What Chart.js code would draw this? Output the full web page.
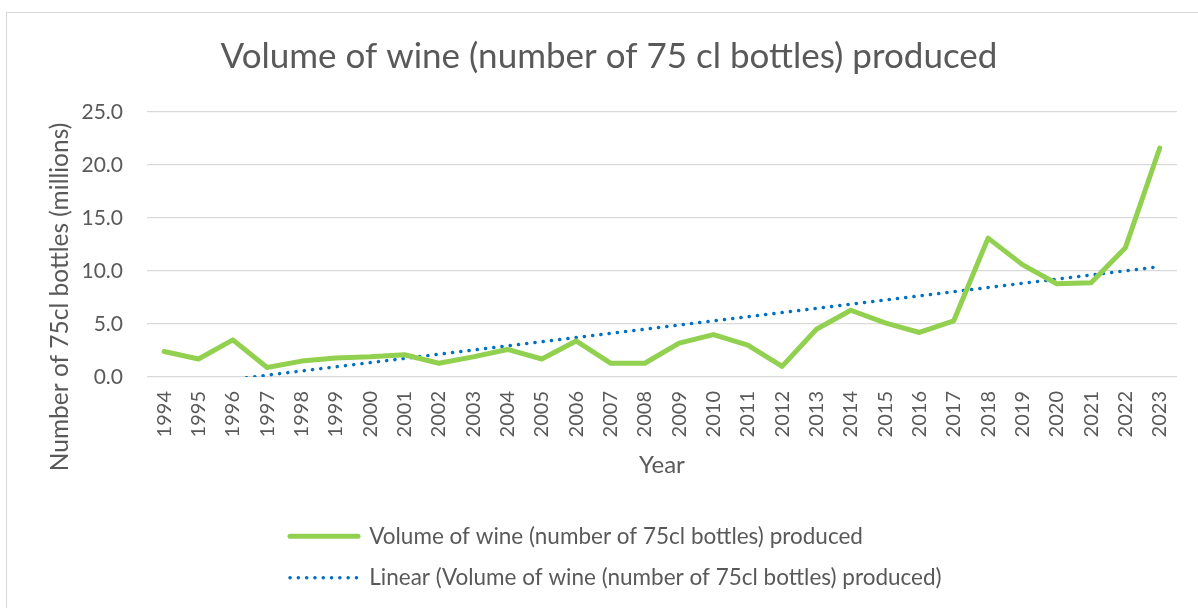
<!DOCTYPE html>
<html>
<head>
<meta charset="utf-8">
<script src="https://cdn.jsdelivr.net/npm/chart.js@4/dist/chart.umd.min.js"></script>
<style>
  html, body { margin: 0; padding: 0; background: #fff; }
  #frame { position: absolute; left: 6px; top: 12px; width: 1300px; height: 700px; border: 1px solid #d9d9d9; }
  #wrap { position: absolute; left: 0; top: 0; width: 1198px; height: 608px; }
</style>
</head>
<body>
<div id="frame"></div>
<div id="wrap"><canvas id="wineChart"></canvas></div>
<script>
// data
var years = ['1994', '1995', '1996', '1997', '1998', '1999', '2000', '2001', '2002', '2003',
             '2004', '2005', '2006', '2007', '2008', '2009', '2010', '2011', '2012', '2013',
             '2014', '2015', '2016', '2017', '2018', '2019', '2020', '2021', '2022', '2023'];
var volume = [2.4, 1.7, 3.5, 0.9, 1.5, 1.8, 1.9, 2.1, 1.3, 1.9,
              2.6, 1.7, 3.4, 1.3, 1.3, 3.2, 4.0, 3.0, 1.0, 4.5,
              6.3, 5.1, 4.2, 5.3, 13.1, 10.6, 8.8, 8.9, 12.2, 21.6];
var yTicks = [0, 5, 10, 15, 20, 25];

var seriesName = 'Volume of wine (number of 75cl bottles) produced';
var trendName = 'Linear (Volume of wine (number of 75cl bottles) produced)';
var yTitle = 'Number of 75cl bottles (millions)';

// least squares trendline, same as Excel's "Linear" trendline
function linearTrend(values) {
    var n = values.length, sx = 0, sy = 0, sxy = 0, sxx = 0;
    values.forEach(function (v, i) { sx += i; sy += v; sxy += i * v; sxx += i * i; });
    var slope = (n * sxy - sx * sy) / (n * sxx - sx * sx);
    var intercept = (sy - slope * sx) / n;
    return values.map(function (v, i) { return intercept + slope * i; });
}

var textColor = '#595959';
var fontFamily = 'Lato, "Open Sans", sans-serif';

var layoutTweaks = {
    id: 'layoutTweaks',
    afterLayout: function (chart) {
        // legend items start under the plot, not at the left edge
        chart.legend.left = 271;
        // Excel centres the title on the whole frame
        chart.titleBlock.left = 36;
    },
    // vertical axis title sits a bit lower than the plot centre, like in Excel
    afterDraw: function (chart) {
        var ctx = chart.ctx;
        ctx.save();
        ctx.translate(60, 297);
        ctx.rotate(-Math.PI / 2);
        ctx.font = '24.5px ' + fontFamily;
        ctx.fillStyle = textColor;
        ctx.textAlign = 'center';
        ctx.textBaseline = 'middle';
        ctx.fillText(yTitle, 0, 0);
        ctx.restore();
    }
};

var ctx = document.getElementById('wineChart').getContext('2d');
var wineChart = new Chart(ctx, {
    type: 'line',
    data: {
        labels: years,
        datasets: [{
            label: seriesName,
            data: volume,
            borderColor: '#92D050',
            borderWidth: 5,
            borderCapStyle: 'round',
            borderJoinStyle: 'round',
            pointRadius: 0,
            tension: 0
        }, {
            label: trendName,
            data: linearTrend(volume),
            borderColor: '#0070C0',
            borderWidth: 3.5,
            borderCapStyle: 'round',
            borderDash: [0.1, 8.2],
            pointRadius: 0,
            tension: 0,
            clip: 0
        }]
    },
    options: {
        responsive: true,
        maintainAspectRatio: false,
        animation: false,
        layout: { padding: { left: 0, right: 16, top: 0, bottom: 9 } },
        plugins: {
            title: {
                display: true,
                text: 'Volume of wine (number of 75 cl bottles) produced',
                color: textColor,
                font: { family: fontFamily, size: 35, weight: 'normal' },
                padding: { top: 36, bottom: 34 }
            },
            legend: {
                position: 'bottom',
                align: 'start',
                fullSize: false,
                labels: {
                    usePointStyle: true,
                    pointStyle: 'line',
                    pointStyleWidth: 68,
                    boxHeight: 22,
                    padding: 19,
                    color: textColor,
                    font: { family: fontFamily, size: 22.5 },
                    // point style legend loses the dash, so take line style from the dataset
                    generateLabels: function (chart) {
                        var items = Chart.defaults.plugins.legend.labels.generateLabels(chart);
                        items.forEach(function (item) {
                            var ds = chart.data.datasets[item.datasetIndex];
                            item.lineDash = ds.borderDash || [];
                            item.lineCap = ds.borderCapStyle;
                            item.lineWidth = ds.borderWidth;
                            item.strokeStyle = ds.borderColor;
                        });
                        return items;
                    }
                }
            },
            tooltip: { enabled: false }
        },
        scales: {
            x: {
                offset: true,
                grid: { display: false, drawTicks: false },
                border: { display: false },
                ticks: {
                    color: textColor,
                    font: { family: fontFamily, size: 20 },
                    minRotation: 90,
                    maxRotation: 90,
                    padding: 14,
                    autoSkip: false
                },
                title: {
                    display: true,
                    text: 'Year',
                    color: textColor,
                    font: { family: fontFamily, size: 24 },
                    padding: { top: 0, bottom: 26 }
                },
                afterFit: function (scale) { scale.height = 129; }
            },
            y: {
                min: 0,
                max: 25,
                afterBuildTicks: function (scale) {
                    scale.ticks = yTicks.map(function (v) { return { value: v }; });
                },
                grid: { color: '#D9D9D9', lineWidth: 1.2, drawTicks: false },
                border: { display: false },
                ticks: {
                    color: textColor,
                    font: { family: fontFamily, size: 21 },
                    padding: 24,
                    callback: function (v) { return Number(v).toFixed(1); }
                },
                afterFit: function (scale) { scale.width = 147; }
            }
        }
    },
    plugins: [layoutTweaks]
});
</script>
</body>
</html>
